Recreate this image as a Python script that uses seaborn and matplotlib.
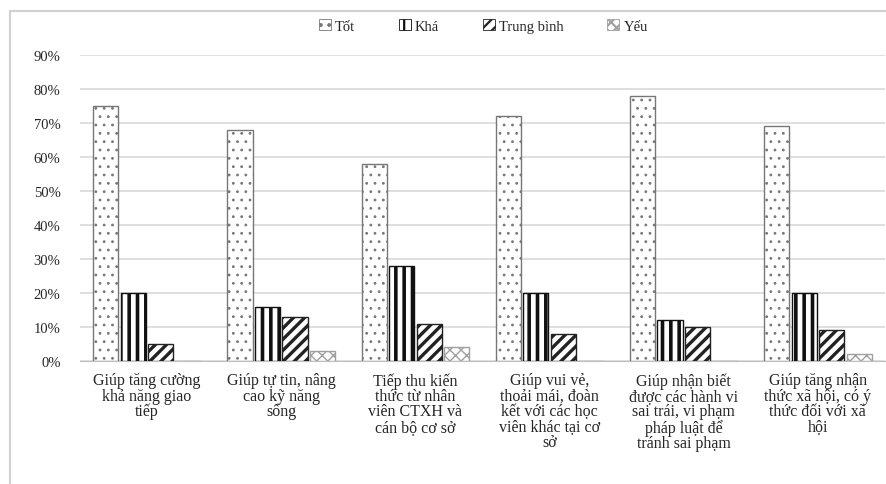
import pandas as pd
import matplotlib.pyplot as plt
import matplotlib.patches as mpatches
import seaborn as sns

categories = [
    "Giúp tăng cường\nkhả năng giao\ntiếp",
    "Giúp tự tin, nâng\ncao kỹ năng\nsống",
    "Tiếp thu kiến\nthức từ nhân\nviên CTXH và\ncán bộ cơ sở",
    "Giúp vui vẻ,\nthoải mái, đoàn\nkết với các học\nviên khác tại cơ\nsở",
    "Giúp nhận biết\nđược các hành vi\nsai trái, vi phạm\npháp luật để\ntránh sai phạm",
    "Giúp tăng nhận\nthức xã hội, có ý\nthức đối với xã\nhội",
]
levels = ["Tốt", "Khá", "Trung bình", "Yếu"]
tot = [75, 68, 58, 72, 78, 69]
kha = [20, 16, 28, 20, 12, 20]
trung_binh = [5, 13, 11, 8, 10, 9]
yeu = [0, 3, 4, 0, 0, 2]
y_ticks = [0, 10, 20, 30, 40, 50, 60, 70, 80, 90]

rows = []
for lvl, vals in zip(levels, [tot, kha, trung_binh, yeu]):
    for cat, v in zip(categories, vals):
        rows.append({'cat': cat, 'level': lvl, 'value': v / 100})
df = pd.DataFrame(rows)

sns.set_style('white')
plt.rcParams['font.family'] = ['Liberation Serif', 'DejaVu Serif']
plt.rcParams['hatch.linewidth'] = 1.6

fig = plt.figure(figsize=(8.87, 4.85), dpi=100)
ax = fig.add_axes([80 / 887, 123 / 485, 805 / 887, 306 / 485])

sns.barplot(data=df, x='cat', y='value', hue='level', hue_order=levels,
            order=categories, ax=ax, width=0.82, gap=0.08,
            palette=['white'] * 4, legend=False, zorder=3)

# hatch, hatch colour, hatch line width
styles = [('..', '#777777', 0.8), ('||', '#111111', 2.6),
          ('///', '#222222', 2.4), ('xxx', '#a0a0a0', 1.0)]
for cont, (hatch, col, hlw) in zip(ax.containers, styles):
    for bar in cont:
        bar.set_hatch(hatch)
        bar.set_edgecolor(col)
        bar.set_facecolor('white')
        bar.set_linewidth(1.0)
        if hasattr(bar, 'set_hatch_linewidth'):
            bar.set_hatch_linewidth(hlw)

ax.set_ylim(0, 0.9)
ax.set_yticks([t / 100 for t in y_ticks])
ax.set_yticklabels([f'{t}%' for t in y_ticks], fontsize=10.5)
ax.set_xlabel('')
ax.set_ylabel('')
ax.tick_params(axis='x', length=0, pad=8, labelsize=11.5)
ax.tick_params(axis='y', length=0, pad=14)
for lab in ax.get_xticklabels():
    lab.set_linespacing(0.95)
ax.yaxis.grid(True, color='#d9d9d9', linewidth=1.2, zorder=0)
sns.despine(ax=ax, left=True, right=True, top=True)
ax.spines['bottom'].set_color('#bfbfbf')
ax.set_xlim(-0.5, len(categories) - 0.5)

handles = []
for h, c, hlw in styles:
    p = mpatches.Patch(facecolor='white', edgecolor=c, hatch=h, linewidth=0.6)
    if hasattr(p, 'set_hatch_linewidth'):
        p.set_hatch_linewidth(hlw)
    handles.append(p)
fig.legend(handles, levels, loc='center', bbox_to_anchor=(0.545, 0.944), ncol=4,
           frameon=False, fontsize=10.5, handlelength=0.8, handleheight=0.8,
           handletextpad=0.3, columnspacing=3.0)

# chart border
fig.patches.append(mpatches.Rectangle((10 / 887, -0.01), 1.0, 1 - 12 / 485 + 0.01,
                                      transform=fig.transFigure, fill=False,
                                      edgecolor='#d0d0d0', linewidth=1.5))

fig.savefig('out.png', dpi=100)
